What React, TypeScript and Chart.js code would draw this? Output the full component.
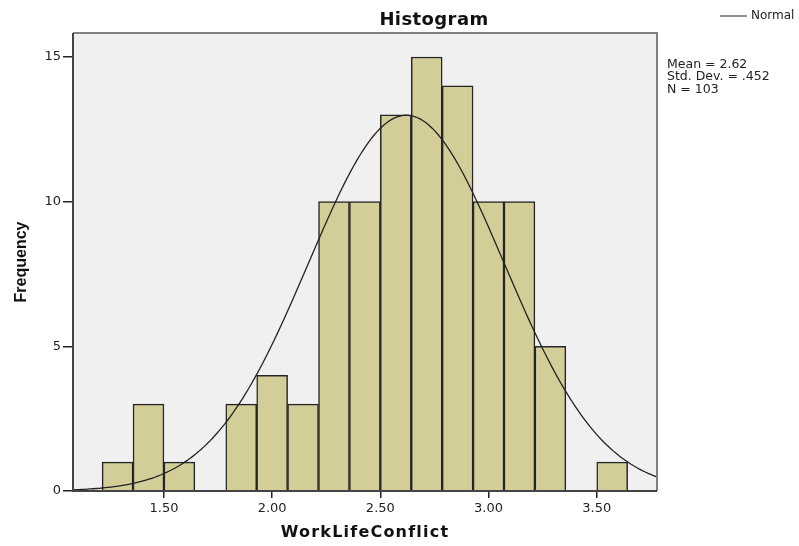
import React, { useEffect, useRef } from "react";
import { Chart, registerables } from "chart.js";

Chart.register(...registerables);

// ---- data ----
const BIN_LOWER_EDGES = [
  1.2143, 1.3571, 1.5, 1.6429, 1.7857, 1.9286, 2.0714, 2.2143, 2.3571,
  2.5, 2.6429, 2.7857, 2.9286, 3.0714, 3.2143, 3.3571, 3.5,
];
const BIN_WIDTH = 0.142857;
const FREQUENCIES = [1, 3, 1, 0, 3, 4, 3, 10, 10, 13, 15, 14, 10, 10, 5, 0, 1];
const X_TICKS = [1.5, 2.0, 2.5, 3.0, 3.5];
const Y_TICKS = [0, 5, 10, 15];
const X_MIN = 1.0797;
const X_MAX = 3.7785;
const Y_MIN = 0;
const Y_MAX = 15.83;
const MEAN = 2.62;
const STD_DEV = 0.452;
const N_CASES = 103;
const STATS_LINES = ["Mean = 2.62", "Std. Dev. = .452", "N = 103"];
const TITLE = "Histogram";
const X_TITLE = "WorkLifeConflict";
const Y_TITLE = "Frequency";
const LEGEND_LABEL = "Normal";

function normalCurve() {
  const pts: { x: number; y: number }[] = [];
  const k = (N_CASES * BIN_WIDTH) / (STD_DEV * Math.sqrt(2 * Math.PI));
  const steps = 200;
  for (let i = 0; i <= steps; i++) {
    const x = X_MIN + ((X_MAX - X_MIN) * i) / steps;
    const z = (x - MEAN) / STD_DEV;
    pts.push({ x, y: k * Math.exp(-0.5 * z * z) });
  }
  return pts;
}

const decorPlugin = {
  id: "decor",
  beforeDatasetsDraw(chart: any) {
    const { ctx, chartArea: a } = chart;
    ctx.save();
    ctx.fillStyle = "#F0F0F0";
    ctx.fillRect(a.left, a.top, a.right - a.left, a.bottom - a.top);
    ctx.restore();
  },
  afterDatasetsDraw(chart: any) {
    const { ctx, chartArea: a } = chart;
    ctx.save();
    ctx.lineWidth = 2;
    ctx.strokeStyle = "#808080";
    ctx.beginPath();
    ctx.moveTo(a.left, a.top);
    ctx.lineTo(a.right, a.top);
    ctx.lineTo(a.right, a.bottom);
    ctx.stroke();
    ctx.strokeStyle = "#444";
    ctx.beginPath();
    ctx.moveTo(a.left, a.top);
    ctx.lineTo(a.left, a.bottom);
    ctx.lineTo(a.right, a.bottom);
    ctx.stroke();
    ctx.restore();
  },
  afterDraw(chart: any) {
    const { ctx, chartArea: a } = chart;
    ctx.save();
    ctx.fillStyle = "#111";
    ctx.textBaseline = "middle";

    // title
    ctx.font = 'bold 18px "DejaVu Sans"';
    ctx.textAlign = "center";
    (ctx as any).letterSpacing = "0.4px";
    ctx.fillText(TITLE, 434, 20);

    // x title
    ctx.font = 'bold 16px "DejaVu Sans"';
    (ctx as any).letterSpacing = "1.2px";
    ctx.fillText(X_TITLE, (a.left + a.right) / 2, 533);
    (ctx as any).letterSpacing = "0px";

    // y title
    ctx.save();
    ctx.translate(22, (a.top + a.bottom) / 2);
    ctx.rotate(-Math.PI / 2);
    ctx.font = 'bold 16px "Liberation Sans"';
    ctx.fillText(Y_TITLE, 0, 0);
    ctx.restore();

    // legend
    ctx.strokeStyle = "#222";
    ctx.lineWidth = 1;
    ctx.beginPath();
    ctx.moveTo(720, 16);
    ctx.lineTo(747, 16);
    ctx.stroke();
    ctx.textAlign = "left";
    ctx.font = '12px "DejaVu Sans"';
    ctx.fillStyle = "#222";
    ctx.fillText(LEGEND_LABEL, 751, 16);

    // stats
    ctx.font = '12.5px "DejaVu Sans"';
    STATS_LINES.forEach((s, i) => {
      ctx.fillText(s, a.right + 10, 65 + i * 12.2);
    });
    ctx.restore();
  },
};

export default function App() {
  const ref = useRef<HTMLCanvasElement | null>(null);
  useEffect(() => {
    if (!ref.current) return;
    const barData = BIN_LOWER_EDGES.map((e, i) => ({
      x: e + BIN_WIDTH / 2,
      y: FREQUENCIES[i],
    }));
    const chart = new Chart(ref.current, {
      type: "bar",
      data: {
        datasets: [
          {
            type: "line",
            label: LEGEND_LABEL,
            data: normalCurve(),
            borderColor: "#222",
            borderWidth: 1.3,
            pointRadius: 0,
            fill: false,
            tension: 0,
            order: 0,
          } as any,
          {
            type: "bar",
            label: "Frequency",
            data: barData,
            backgroundColor: "#D3CE97",
            borderColor: "#262626",
            borderWidth: 1.5,
            barPercentage: 1,
            categoryPercentage: 1,
            order: 1,
          } as any,
        ],
      },
      options: {
        responsive: false,
        animation: false,
        layout: { padding: { left: 0, top: 33, right: 142, bottom: 25 } },
        plugins: {
          legend: { display: false },
          title: { display: false },
          tooltip: { enabled: false },
        },
        scales: {
          x: {
            type: "linear",
            min: X_MIN,
            max: X_MAX,
            offset: false,
            afterBuildTicks: (s: any) => {
              s.ticks = X_TICKS.map((v) => ({ value: v }));
            },
            afterFit: (s: any) => {
              s.height = 30;
            },
            grid: {
              display: true,
              drawOnChartArea: false,
              drawTicks: true,
              tickLength: 7,
              color: "#222",
              lineWidth: 1.5,
              offset: false,
            },
            border: { display: false },
            ticks: {
              autoSkip: false,
              maxRotation: 0,
              padding: 3,
              color: "#222",
              font: { family: "DejaVu Sans", size: 13 },
              callback: (v: any) => Number(v).toFixed(2),
            },
          },
          y: {
            type: "linear",
            min: Y_MIN,
            max: Y_MAX,
            afterBuildTicks: (s: any) => {
              s.ticks = Y_TICKS.map((v) => ({ value: v }));
            },
            afterFit: (s: any) => {
              s.width = 73;
            },
            grid: {
              display: true,
              drawOnChartArea: false,
              drawTicks: true,
              tickLength: 10,
              color: "#222",
              lineWidth: 1.5,
            },
            border: { display: false },
            ticks: {
              autoSkip: false,
              padding: 2,
              color: "#222",
              font: { family: "DejaVu Sans", size: 13 },
              callback: (v: any) => String(v),
            },
          },
        },
      },
      plugins: [decorPlugin],
    });
    return () => chart.destroy();
  }, []);

  return (
    <div style={{ position: "fixed", left: 0, top: 0, width: 799, height: 546, background: "#fff" }}>
      <canvas ref={ref} width={799} height={546} />
    </div>
  );
}
